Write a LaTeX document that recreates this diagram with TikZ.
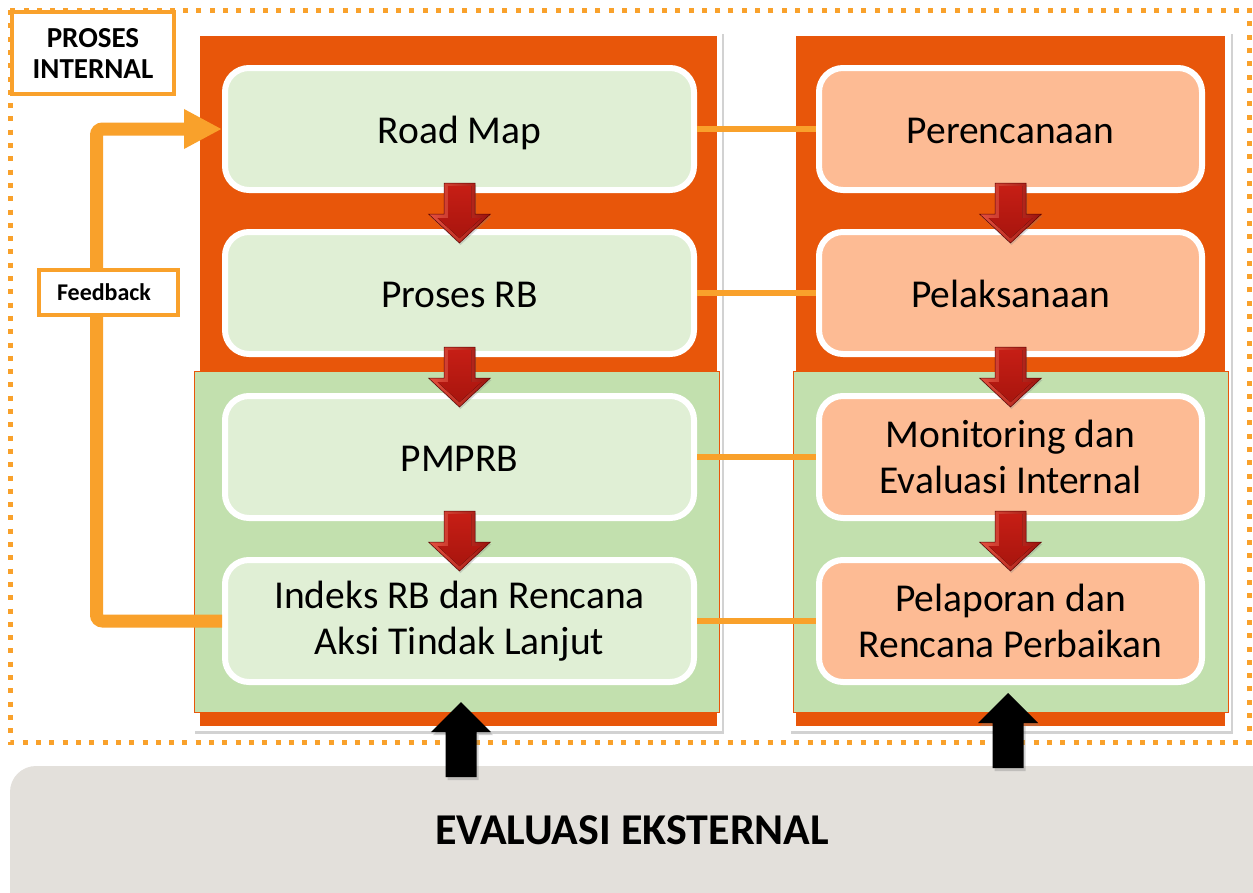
\documentclass[tikz,border=0pt]{standalone}
\usepackage{fontspec}
\setmainfont{Carlito}
\usetikzlibrary{shadows,arrows.meta,calc}
\definecolor{dorange}{HTML}{E8560A}
\definecolor{lorange}{HTML}{F9A12B}
\definecolor{pgreen}{HTML}{C2E0AE}
\definecolor{bgreen}{HTML}{E0EFD5}
\definecolor{salmon}{HTML}{FDBB94}
\definecolor{evgray}{HTML}{E3E0DB}
\definecolor{redA}{HTML}{E5503F}
\definecolor{redB}{HTML}{9A130D}
\definecolor{redC}{HTML}{C61E15}
\definecolor{redD}{HTML}{A8150E}
\tikzset{
  card/.style={fill=white, drop shadow={opacity=0.35, shadow xshift=1.5pt, shadow yshift=-2.5pt}},
  stepbox/.style={rounded corners=24pt, draw=white, line width=6pt, minimum height=122pt,
    align=center, font=\fontsize{39.5}{46}\selectfont, text=black,
    drop shadow={opacity=0.3, shadow xshift=1.5pt, shadow yshift=-2pt}},
  oneline/.style={text height=30pt, text depth=2pt},
  gbox/.style={stepbox, fill=bgreen, minimum width=469pt},
  sbox/.style={stepbox, fill=salmon, minimum width=383pt},
  link/.style={draw=lorange, line width=6pt},
  lbl/.style={draw=lorange, line width=4pt, fill=white, align=center, inner sep=0pt},
  redarr/.style={left color=redA, right color=redB, draw=red!35!black, line width=0.5pt,
    drop shadow={opacity=0.3, shadow xshift=1pt, shadow yshift=-2pt}},
  redin/.style={top color=redC, bottom color=redD},
  blkarr/.style={fill=black, drop shadow={opacity=0.35, shadow xshift=2pt, shadow yshift=-3pt}},
  pics/redarrow/.style={code={
    \draw[redarr] (-15.5,-28) -- (15.5,-28) -- (15.5,3) -- (31,3) -- (0,32) -- (-31,3) -- (-15.5,3) -- cycle;
    \fill[redin] (-11.5,-25) -- (11.5,-25) -- (11.5,7) -- (22,7) -- (0,27) -- (-22,7) -- (-11.5,7) -- cycle;}},
  pics/blackarrow/.style={code={
    \fill[blkarr] (0,0) -- (30,30) -- (15.5,30) -- (15.5,75) -- (-15.5,75) -- (-15.5,30) -- (-30,30) -- cycle;}},
}
\begin{document}
\begin{tikzpicture}[x=1pt,y=-1pt]
\useasboundingbox (0,0) rectangle (1253,892);
\clip (0,0) rectangle (1253,892);
\fill[white] (0,0) rectangle (1253,892);

% outer dotted border
\draw[lorange, line width=5pt, dash pattern=on 5pt off 8.3pt] (10,10) rectangle (1249,742);

% panels
\fill[card] (193,31) rectangle (722,731);
\fill[dorange] (200,36) rectangle (717,726);
\filldraw[fill=pgreen, draw=dorange, line width=1pt] (194,371) rectangle (719,712);
\fill[card] (789,31) rectangle (1231,731);
\fill[dorange] (796,36) rectangle (1225,726);
\filldraw[fill=pgreen, draw=dorange, line width=1pt] (793,371) rectangle (1228,712);

% external evaluation bar
\fill[evgray, rounded corners=26pt] (10,766) rectangle (1300,940);
\node[font=\bfseries\fontsize{44}{50}\selectfont] (evt) at (632,830) {EVALUASI EKSTERNAL};

% boxes
\node[gbox, oneline] (rm) at (459.5,129) {Road Map};
\node[gbox, oneline] (pr) at (459.5,293) {Proses RB};
\node[gbox, oneline] (pm) at (459.5,457) {PMPRB};
\node[gbox] (ix) at (459.5,621) {Indeks RB dan Rencana\\Aksi Tindak Lanjut};
\node[sbox, oneline] (pe) at (1010.5,129) {Perencanaan};
\node[sbox, oneline] (pl) at (1010.5,293) {Pelaksanaan};
\node[sbox] (me) at (1010.5,457) {Monitoring dan\\Evaluasi Internal};
\node[sbox] (lp) at (1010.5,621) {Pelaporan dan\\Rencana Perbaikan};

% horizontal links
\draw[link] (rm.east) -- (pe.west);
\draw[link] (pr.east) -- (pl.west);
\draw[link] (pm.east) -- (me.west);
\draw[link] (ix.east) -- (lp.west);

% red down arrows
\pic at ($(rm.south)!0.5!(pr.north)$) {redarrow};
\pic at ($(pr.south)!0.5!(pm.north)$) {redarrow};
\pic at ($(pm.south)!0.5!(ix.north)$) {redarrow};
\pic at ($(pe.south)!0.5!(pl.north)$) {redarrow};
\pic at ($(pl.south)!0.5!(me.north)$) {redarrow};
\pic at ($(me.south)!0.5!(lp.north)$) {redarrow};

% feedback loop
\coordinate (fbc) at (96.5,129);
\draw[lorange, line width=13pt, rounded corners=6pt, -{Triangle[length=38pt,width=37pt]}]
  (ix.west) -| (fbc) -- (rm.west);

% labels
\node[lbl, minimum width=162pt, minimum height=82pt, font=\bfseries\fontsize{29}{31}\selectfont]
  (pi) at (93,53) {PROSES\\INTERNAL};
\node[lbl, minimum width=139pt, minimum height=45pt, font=\bfseries\fontsize{24}{26}\selectfont]
  (fb) at (108,292) {\hspace*{-8pt}Feedback};

% black up arrows from external evaluation
\coordinate (up1) at (461,702);
\coordinate (up2) at (1008,693);
\pic at (up1) {blackarrow};
\pic at (up2) {blackarrow};
\end{tikzpicture}
\end{document}
